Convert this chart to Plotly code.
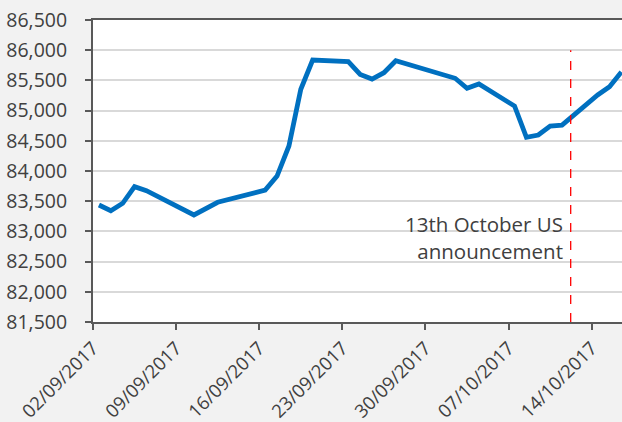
import plotly.graph_objects as go

dates = [
    "2017-09-02", "2017-09-03", "2017-09-04", "2017-09-05", "2017-09-06",
    "2017-09-10", "2017-09-12", "2017-09-16", "2017-09-17", "2017-09-18",
    "2017-09-19", "2017-09-20", "2017-09-23", "2017-09-24", "2017-09-25",
    "2017-09-26", "2017-09-27", "2017-10-02", "2017-10-03", "2017-10-04",
    "2017-10-07", "2017-10-08", "2017-10-09", "2017-10-10", "2017-10-11",
    "2017-10-14", "2017-10-15", "2017-10-16",
]
values = [
    83437, 83343, 83465, 83740, 83674,
    83272, 83482, 83685, 83917, 84414,
    85353, 85838, 85810, 85600, 85523,
    85627, 85826, 85535, 85369, 85440,
    85076, 84558, 84596, 84745, 84760,
    85258, 85396, 85640,
]
tick_dates = ["2017-09-02", "2017-09-09", "2017-09-16", "2017-09-23",
              "2017-09-30", "2017-10-07", "2017-10-14"]
tick_labels = ["02/09/2017", "09/09/2017", "16/09/2017", "23/09/2017",
               "30/09/2017", "07/10/2017", "14/10/2017"]
event_date = "2017-10-12 05:30"
event_text = "13th October US<br>announcement"

x_points = [d + " 12:00" for d in dates]

fig = go.Figure()
fig.add_trace(go.Scatter(
    x=x_points, y=values, mode="lines",
    line=dict(color="#0070c0", width=4.8),
    showlegend=False, hoverinfo="skip",
))

fig.add_shape(type="line", xref="x", yref="y",
              x0=event_date, x1=event_date, y0=81500, y1=86000,
              line=dict(color="#ff0000", width=1.3, dash="dash"))

fig.add_annotation(x=event_date, y=82900, xref="x", yref="y",
                   text=event_text, showarrow=False, align="right",
                   xanchor="right", yanchor="middle", xshift=-6,
                   font=dict(family="Open Sans", size=20.5, color="#404040"))

fig.update_layout(
    width=622, height=422,
    margin=dict(l=93, r=0, t=20, b=100, autoexpand=False),
    paper_bgcolor="#f2f2f2", plot_bgcolor="#ffffff",
    font=dict(family="Open Sans", size=18, color="#404040"),
)
fig.update_xaxes(
    type="date", automargin=False,
    range=["2017-09-02 00:00", "2017-10-16 13:12"],
    tickvals=tick_dates, ticktext=tick_labels, tickangle=-45,
    tickfont=dict(family="Open Sans", size=18.5, color="#404040"),
    ticks="outside", ticklen=6, tickcolor="#595959", tickwidth=1.5,
    showline=True, linecolor="#595959", linewidth=2, mirror=True,
    showgrid=False, zeroline=False,
)
fig.update_yaxes(
    automargin=False,
    range=[81500, 86500], dtick=500, tickformat=",",
    tickfont=dict(family="Open Sans", size=19.5, color="#404040"),
    ticks="outside", ticklen=6, tickcolor="#595959", tickwidth=1.5,
    showline=True, linecolor="#595959", linewidth=2,
    showgrid=True, gridcolor="#d9d9d9", gridwidth=1.5,
    zeroline=False, ticklabelstandoff=14,
)

fig.write_html(
    "out.html",
    config={"displayModeBar": False},
    post_script="document.body.style.margin='0px';document.body.style.overflow='hidden';",
)
